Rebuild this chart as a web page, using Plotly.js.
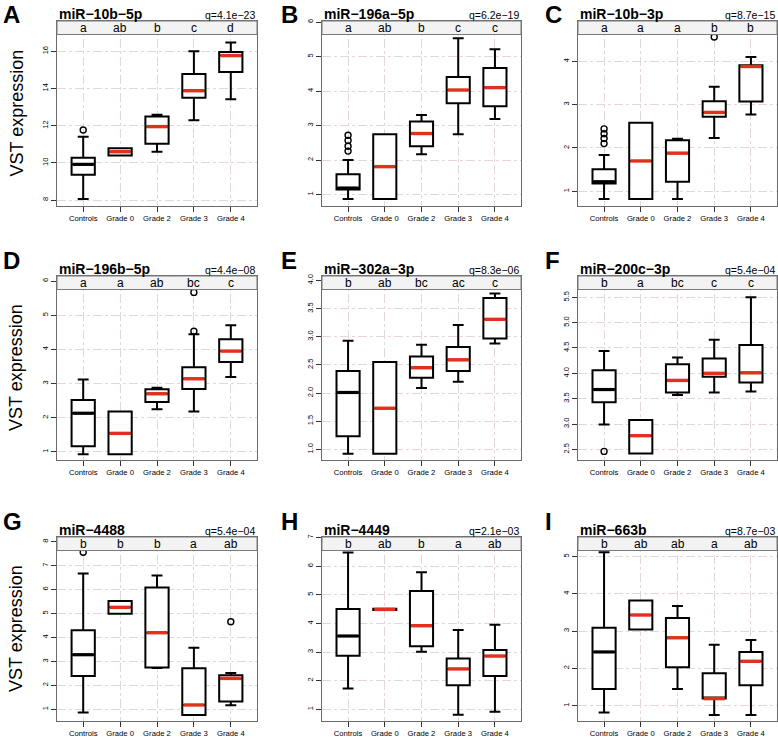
<!DOCTYPE html>
<html><head><meta charset="utf-8">
<script src="https://cdn.plot.ly/plotly-3.0.1.min.js"></script>
<style>html,body{margin:0;padding:0;background:#fff}</style>
</head><body><div id="chart" style="width:778px;height:740px"></div>
<script>
// ---------- data ----------
const categories = ["Controls", "Grade 0", "Grade 2", "Grade 3", "Grade 4"];
const panelLetters = ["A","B","C","D","E","F","G","H","I"];
const panelNames = ["miR−10b−5p","miR−196a−5p","miR−10b−3p","miR−196b−5p","miR−302a−3p","miR−200c−3p","miR−4488","miR−4449","miR−663b"];
const qValues = ["q=4.1e−23","q=6.2e−19","q=8.7e−15","q=4.4e−08","q=8.3e−06","q=5.4e−04","q=5.4e−04","q=2.1e−03","q=8.7e−03"];
const groupLetters = [
  ["a","ab","b","c","d"],
  ["a","ab","b","c","c"],
  ["a","a","a","b","b"],
  ["a","a","ab","bc","c"],
  ["b","ab","bc","ac","c"],
  ["b","a","bc","c","c"],
  ["b","b","b","a","ab"],
  ["b","ab","b","a","ab"],
  ["b","ab","ab","a","ab"]
];
const lowerWhisker = [
  [8.05,10.39,10.60,12.29,13.42],
  [0.87,0.87,2.17,2.75,3.19],
  [0.82,0.82,0.82,2.23,2.77],
  [0.93,0.93,2.25,2.18,3.19],
  [0.92,0.92,2.09,2.20,2.88],
  [2.99,2.42,3.57,3.62,3.64],
  [0.87,4.99,2.72,0.76,1.17],
  [1.73,4.47,3.01,0.81,0.91],
  [0.82,3.04,1.45,0.75,0.75]
];
const quartile1 = [
  [9.36,10.39,11.03,13.50,14.89],
  [1.15,0.87,2.40,3.65,3.56],
  [1.18,0.82,1.22,2.72,3.07],
  [1.16,0.93,2.46,2.84,3.63],
  [1.23,0.92,2.27,2.39,2.97],
  [3.43,2.42,3.62,3.93,3.82],
  [2.39,4.99,2.75,0.76,1.32],
  [2.87,4.47,3.20,1.84,2.16],
  [1.45,3.04,2.03,1.19,1.55]
];
const medians = [
  [9.92,10.60,11.95,13.88,15.77],
  [1.19,1.81,2.77,4.03,4.10],
  [1.22,1.70,1.88,2.82,3.88],
  [2.13,1.54,2.70,3.14,3.95],
  [2.01,1.73,2.45,2.59,3.31],
  [3.68,2.77,3.86,4.00,4.01],
  [3.28,5.26,4.20,1.18,2.29],
  [3.56,4.49,3.92,2.41,2.86],
  [2.44,3.43,2.82,1.19,2.19]
];
const quartile3 = [
  [10.28,10.78,12.50,14.78,15.96],
  [1.59,2.75,3.12,4.41,4.67],
  [1.51,2.58,2.18,3.08,3.91],
  [2.52,2.18,2.83,3.48,4.30],
  [2.39,2.55,2.65,2.82,3.69],
  [4.06,3.08,4.18,4.29,4.56],
  [4.30,5.53,6.09,2.71,2.42],
  [4.50,4.51,5.13,2.77,3.07],
  [3.09,3.82,3.35,1.87,2.44]
];
const upperWhisker = [
  [11.41,10.78,12.59,16.00,16.47],
  [2.00,2.75,3.31,5.53,5.21],
  [1.84,2.58,2.21,3.41,4.10],
  [3.12,2.18,2.88,4.44,4.71],
  [2.93,2.55,2.86,3.21,3.77],
  [4.44,3.08,4.31,4.66,5.50],
  [6.67,5.53,6.59,3.57,2.52],
  [6.48,4.51,5.79,3.77,3.95],
  [5.11,3.82,3.67,2.63,2.76]
];
// outliers: group index (0 = Controls) and value
const outlierGroup = [
  [0],
  [0,0,0,0],
  [0,0,0,0,3],
  [3,3],
  [],
  [0],
  [0,4],
  [],
  []
];
const outlierValue = [
  [11.77],
  [2.26,2.40,2.57,2.72],
  [2.10,2.22,2.33,2.44,4.56],
  [4.53,5.67],
  [],
  [2.46],
  [7.56,4.66],
  [],
  []
];
const yTickValues = [
  [8,10,12,14,16],
  [1,2,3,4,5,6],
  [1,2,3,4],
  [1,2,3,4,5,6],
  [1.0,1.5,2.0,2.5,3.0,3.5,4.0],
  [2.5,3.0,3.5,4.0,4.5,5.0,5.5],
  [1,2,3,4,5,6,7,8],
  [1,2,3,4,5,6,7],
  [1,2,3,4,5]
];
const yRanges = [
  [7.68,17.63],[0.67,6.03],[0.66,4.93],
  [0.76,6.15],[0.81,4.08],[2.29,5.92],
  [0.51,8.20],[0.59,7.02],[0.59,5.52]
];

// ---------- layout geometry (pixels) ----------
const W = 778, H = 740;
const colL = [57, 322, 578], colR = [257, 521, 777];
const rowT = [21, 276, 537], rowB = [206, 460, 721];
const letterX = [2, 280, 544];
const stripH = 13.5;
const xRange = [0.29, 5.71];
const boxW = 0.63;
const FONT = 'Liberation Sans, Arial, Helvetica, sans-serif';
const gridCol = '#e3d6d6';

const traces = [], annotations = [], shapes = [];
const layout = {
  width: W, height: H, margin: {l:0, r:0, t:0, b:0}, showlegend: false,
  paper_bgcolor: '#fff', plot_bgcolor: '#fff',
  font: {family: FONT, color: '#000'}
};
const py = v => 1 - v / H, px = v => v / W;

for (let p = 0; p < 9; p++) {
  const r = Math.floor(p / 3), c = p % 3;
  const s = p === 0 ? '' : String(p + 1);
  const xa = 'x' + s, ya = 'y' + s;
  const xpos = categories.map((_, i) => i + 1);
  layout['xaxis' + s] = {
    domain: [px(colL[c]), px(colR[c])], range: xRange, anchor: ya,
    tickvals: xpos, ticktext: categories, tickangle: 0,
    showline: true, mirror: true, linecolor: '#6b6b6b', linewidth: 1,
    ticks: 'outside', ticklen: 5, tickcolor: '#333', tickwidth: 1,
    tickfont: {size: 7.7, family: FONT, color: '#000'},
    showgrid: true, gridcolor: gridCol, griddash: 'dashdot', gridwidth: 1,
    zeroline: false, fixedrange: true, automargin: false
  };
  const dec = (yTickValues[p].some(v => v % 1 !== 0));
  layout['yaxis' + s] = {
    domain: [py(rowB[r]), py(rowT[r])], range: yRanges[p], anchor: xa,
    tickvals: yTickValues[p], ticktext: yTickValues[p].map(v => dec ? v.toFixed(1) : String(v)),
    tickangle: -90,
    showline: true, mirror: true, linecolor: '#6b6b6b', linewidth: 1,
    ticks: 'outside', ticklen: 5, tickcolor: '#333', tickwidth: 1,
    tickfont: {size: 7.5, family: FONT, color: '#000'},
    showgrid: true, gridcolor: gridCol, griddash: 'dashdot', gridwidth: 1,
    zeroline: false, fixedrange: true, automargin: false
  };
  traces.push({
    type: 'box', xaxis: xa, yaxis: ya, x: xpos,
    q1: quartile1[p], median: medians[p], q3: quartile3[p],
    lowerfence: lowerWhisker[p], upperfence: upperWhisker[p],
    width: boxW, whiskerwidth: 0.47, fillcolor: '#ffffff',
    line: {color: '#000', width: 2}, boxpoints: false, hoverinfo: 'skip'
  });
  // median overlays
  const redX = [], redY = [], blkX = [], blkY = [];
  medians[p].forEach((m, i) => {
    const xs = [i + 1 - boxW / 2 + 0.03, i + 1 + boxW / 2 - 0.03, null];
    const ys = [m, m, null];
    if (i === 0) { blkX.push(...xs); blkY.push(...ys); }
    else { redX.push(...xs); redY.push(...ys); }
  });
  traces.push({type: 'scatter', mode: 'lines', xaxis: xa, yaxis: ya, x: blkX, y: blkY,
    line: {color: '#000', width: 3.2}, hoverinfo: 'skip'});
  traces.push({type: 'scatter', mode: 'lines', xaxis: xa, yaxis: ya, x: redX, y: redY,
    line: {color: '#e0301e', width: 3.4}, hoverinfo: 'skip'});
  if (outlierValue[p].length) {
    traces.push({type: 'scatter', mode: 'markers', xaxis: xa, yaxis: ya,
      x: outlierGroup[p].map(g => g + 1), y: outlierValue[p],
      marker: {symbol: 'circle-open', size: 6, color: '#000', line: {width: 1.4, color: '#000'}},
      hoverinfo: 'skip', cliponaxis: true});
  }
  // strip
  shapes.push({type: 'rect', xref: 'paper', yref: 'paper', layer: 'above',
    x0: px(colL[c]), x1: px(colR[c]), y0: py(rowT[r] + stripH), y1: py(rowT[r]),
    fillcolor: '#f3f3f3', line: {color: '#7a7a7a', width: 1}});
  groupLetters[p].forEach((g, i) => {
    annotations.push({xref: xa, yref: 'paper', x: i + 1, y: py(rowT[r] + stripH / 2 + 0.5),
      text: g, showarrow: false, xanchor: 'center', yanchor: 'middle',
      font: {size: 12, family: FONT, color: '#000'}});
  });
  // panel title and q value
  annotations.push({xref: 'paper', yref: 'paper', x: px(colL[c]), y: py(rowT[r] - 7),
    text: '<b>' + panelNames[p] + '</b>', showarrow: false, xanchor: 'left', yanchor: 'middle',
    font: {size: 14, family: FONT, color: '#000'}});
  annotations.push({xref: 'paper', yref: 'paper', x: px(colR[c]), y: py(rowT[r] - 6),
    text: qValues[p], showarrow: false, xanchor: 'right', yanchor: 'middle',
    font: {size: 10.5, family: FONT, color: '#000'}});
  // panel letter: row 1 anchored to the top edge, others centred
  const letterTop = [0, 246, 507][r];
  annotations.push({xref: 'paper', yref: 'paper', x: px(letterX[c]), y: py(letterTop),
    text: '<b>' + panelLetters[p] + '</b>', showarrow: false, xanchor: 'left', yanchor: 'top',
    borderpad: 0, font: {size: 24, family: FONT, color: '#000'}});
  if (c === 0) {
    annotations.push({xref: 'paper', yref: 'paper', x: px(16), y: py((rowT[r] + rowB[r]) / 2),
      text: 'VST expression', textangle: -90, showarrow: false, xanchor: 'center', yanchor: 'middle',
      font: {size: 18, family: FONT, color: '#000'}});
  }
}
layout.annotations = annotations;
layout.shapes = shapes;
Plotly.newPlot('chart', traces, layout, {displayModeBar: false, staticPlot: true});
</script></body></html>
